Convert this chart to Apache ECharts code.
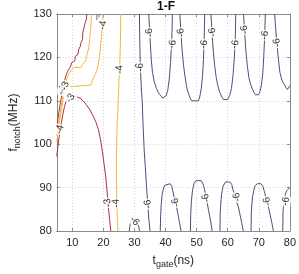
<!DOCTYPE html>
<html><head><meta charset="utf-8">
<script src="https://cdn.jsdelivr.net/npm/echarts@6/dist/echarts.min.js"></script>
<style>html,body{margin:0;padding:0;background:#fff}#c{width:299px;height:274px}</style>
</head><body><div id="c"></div>
<script>
// axis ticks
const xTicks = [10, 20, 30, 40, 50, 60, 70, 80];
const yTicks = [80, 90, 100, 110, 120, 130];

// contour level -3 (t_gate ns, f_notch MHz)
const lvl3Upper = [[5.0,104.0],[5.5,106.5],[6.0,108.8],[6.5,110.8],[7.0,113.0],[7.5,114.6],[8.0,115.9],[8.5,116.8],[9.0,117.4],[9.5,118.0],[9.8,118.8],[10.8,119.2],[11.0,120.3],[11.8,120.7],[12.1,121.9],[12.6,122.6],[12.8,123.4],[13.3,124.1],[13.4,125.7],[14.0,126.0],[14.1,127.9],[14.5,128.7],[14.7,130]];
const lvl3Lower = [[5.0,97.2],[5.5,100.3],[6.0,102.8],[6.5,105.0],[7.0,107.0],[7.5,108.7],[8.0,109.9],[8.6,110.6],[9.5,111.0],[10.5,111.1],[11.3,111.0],[12.5,110.6],[13.5,110.0],[14.5,109.1],[15.5,108.1],[16.5,106.8],[17.5,105.3],[18.4,103.4],[19.1,101.0],[19.7,98.2],[20.3,95.0],[20.8,92.2],[21.2,89.0],[21.6,85.5],[22.0,82.6],[22.4,80]];

// contour level -4
const lvl4A = [[5.0,102.0],[5.5,104.6],[6.0,106.9],[6.5,109.0],[7.0,111.5],[7.5,113.3],[8.0,114.6],[8.5,115.6],[9.0,116.3],[9.6,116.9],[10.3,117.7],[12.8,117.7],[13.3,118.4],[14.3,119.2],[14.6,120.3],[15.2,121.9],[15.6,124.1],[15.9,126.4],[16.1,128.7],[16.2,130]];
const lvl4B = [[5.0,100.5],[5.5,103.3],[6.0,105.6],[6.5,107.8],[7.0,110.2],[7.4,112.0],[7.8,113.2],[8.2,113.6],[15.9,113.6],[16.4,114.6],[16.9,115.0],[17.4,116.1],[17.9,117.0],[18.4,118.6],[18.8,120.3],[19.1,122.6],[19.4,124.9],[19.7,127.2],[19.9,130]];
const lvl4Main = [[25.6,130],[25.5,124],[25.3,119],[25.0,114],[24.7,109],[24.4,104],[24.2,98],[24.2,92],[24.3,87],[24.5,83],[24.7,80]];

// contour level -5 (short pieces at the top)
const lvl5a = [[17.9,130],[17.9,128.6]];
const lvl5b = [[18.6,130],[18.6,129.2]];

// contour level -6
const lvl6Main = [[31.6,130],[31.7,124],[31.9,117.7],[32.2,113],[32.5,109.7],[32.8,104],[33.1,99],[33.5,94.6],[33.9,90],[34.3,86.2],[34.6,83],[35.0,80]];
const lvl6U1 = [[34.6,130],[34.8,127.2],[35.1,123.4],[35.4,119.6],[35.8,116.5],[36.4,114.3],[37.1,112.8],[37.9,111.6],[38.6,111.1],[39.1,110.6],[39.7,110.6],[40.2,111.2],[40.7,112.4],[41.2,115.0],[41.6,118.8],[41.9,122.6],[42.1,126.4],[42.2,130]];
const lvl6U2 = [[44.6,130],[44.9,126.4],[45.3,121.9],[45.8,118.1],[46.3,115.4],[46.8,113.1],[47.4,111.6],[48.0,110.5],[48.4,110.0],[50.6,110.0],[51.0,110.9],[51.5,112.8],[51.9,115.8],[52.2,119.6],[52.4,123.4],[52.6,130]];
const lvl6U3 = [[54.6,130],[54.9,126.4],[55.3,121.9],[55.8,118.1],[56.3,115.4],[56.8,113.5],[57.4,112.0],[58.0,111.1],[58.6,110.3],[60.0,110.3],[60.6,111.2],[61.2,112.8],[61.7,115.8],[62.1,119.6],[62.4,123.4],[62.6,130]];
const lvl6U4 = [[65.1,130],[65.4,126.4],[65.8,121.9],[66.3,118.1],[66.8,115.4],[67.3,113.9],[67.9,112.8],[68.4,112.0],[68.9,111.4],[69.9,111.4],[70.4,112.1],[70.9,113.9],[71.3,116.5],[71.6,120.3],[71.9,125.1],[72.1,130]];
const lvl6U5 = [[75.1,130],[75.4,126.8],[75.8,123.4],[76.3,119.6],[76.8,116.5],[77.4,114.8],[78.1,113.9],[78.7,113.1],[79.2,112.6],[79.7,112.6],[80.0,113.5]];
const lvl6N0 = [[28.3,80],[28.7,81.9],[29.3,82.7],[30.3,82.7],[30.9,81.9],[31.4,81.0],[31.6,80]];
const lvl6N1 = [[38.3,80],[38.4,83.0],[38.6,86.1],[38.9,88.4],[39.3,89.7],[39.7,90.5],[40.3,90.9],[41.5,90.9],[42.0,90.3],[42.3,89.3],[42.7,88.0],[43.3,86.5],[43.9,84.2],[44.5,81.9],[45.0,80]];
const lvl6N2 = [[48.0,80],[48.1,83.8],[48.3,86.8],[48.7,89.5],[49.2,91.0],[49.8,91.6],[51.5,91.6],[52.1,90.8],[52.5,89.7],[53.1,87.6],[53.8,84.9],[54.5,82.3],[55.0,80]];
const lvl6N3 = [[57.5,80],[57.6,84.6],[58.0,88.4],[58.5,90.3],[59.3,91.3],[60.7,91.3],[61.3,90.7],[61.7,89.5],[62.5,87.6],[63.5,85.3],[64.5,81.9],[65.0,80]];
const lvl6N4 = [[67.5,80],[67.6,84.6],[68.0,88.0],[68.7,90.3],[69.5,90.9],[70.7,90.9],[71.3,90.3],[71.8,89.1],[72.3,87.6],[73.3,84.9],[74.2,81.9],[74.7,80]];
const lvl6N5 = [[77.7,80],[77.8,84.6],[78.2,87.2],[78.5,88.4],[79.0,89.3],[79.5,89.7],[80,90.0]];

// contour labels
const labelText = ['-6','-6','-6','-6','-6','-6','-6','-6','-6','-6','-6','-6','-6','-6','-6','-6','-6','-4','-3','-4','-4','-3','-4','-3','-4'];
const labelPos = [[31.9,117.7],[34.9,125.7],[42.2,123.0],[45.0,125.7],[52.4,123.0],[55.1,125.8],[62.4,123.0],[65.4,126.4],[71.9,125.1],[75.9,123.4],[30.0,82.3],[34.3,86.2],[43.3,86.6],[53.0,87.6],[63.0,87.8],[72.7,86.8],[78.7,86.8],[24.3,86.4],[21.4,86.5],[19.9,127.4],[25.2,117.2],[9.4,110.6],[6.7,112.4],[7.7,113.4],[6.0,103.4]];
const labelAngle = [90,100,80,100,80,100,80,100,80,100,-50,95,105,105,105,105,80,90,100,80,95,55,70,70,75];

const C3 = '#a5353e', C4 = '#f4b63f', C5 = '#7d6f8f', C6 = '#574a78';
const FONT = 'Liberation Sans, Arial, Helvetica, sans-serif';

function lineSeries(data, color) {
  return { type: 'line', data: data, showSymbol: false, symbol: 'none', silent: true,
    lineStyle: { color: color, width: 1 }, z: 3, clip: true, animation: false };
}
const series = [
  lineSeries(lvl3Upper, C3), lineSeries(lvl3Lower, C3),
  lineSeries(lvl4A, C4), lineSeries(lvl4B, C4), lineSeries(lvl4Main, C4),
  lineSeries(lvl5a, C5), lineSeries(lvl5b, C5),
  lineSeries(lvl6Main, C6), lineSeries(lvl6U1, C6), lineSeries(lvl6U2, C6), lineSeries(lvl6U3, C6),
  lineSeries(lvl6U4, C6), lineSeries(lvl6U5, C6), lineSeries(lvl6N0, C6), lineSeries(lvl6N1, C6),
  lineSeries(lvl6N2, C6), lineSeries(lvl6N3, C6), lineSeries(lvl6N4, C6), lineSeries(lvl6N5, C6),
  { type: 'scatter', z: 5, silent: true, animation: false, symbolSize: 1,
    itemStyle: { color: 'rgba(0,0,0,0)' },
    label: { show: true, position: 'inside', fontSize: 10, fontFamily: FONT, color: '#000',
      backgroundColor: '#fff', padding: [0, 1], lineHeight: 10 },
    data: labelPos.map((p, i) => ({ value: p, label: { formatter: labelText[i], rotate: labelAngle[i] } })) }
];

const axisGray = '#8a8a8a';
const chart = echarts.init(document.getElementById('c'), null, { renderer: 'canvas' });
chart.setOption({
  animation: false,
  backgroundColor: '#fff',
  title: { text: '1-F', left: 157, top: 1, padding: 0,
    textStyle: { fontSize: 12, fontWeight: 'bold', fontFamily: FONT, color: '#111' } },
  grid: { left: 44, right: 6, top: 14, bottom: 41, containLabel: false },
  xAxis: [
    { type: 'value', min: 5, max: 80, position: 'bottom',
      axisLine: { show: true, lineStyle: { color: axisGray, width: 1 } },
      axisTick: { show: true, inside: true, length: 3, customValues: xTicks, lineStyle: { color: axisGray } },
      axisLabel: { customValues: xTicks, fontSize: 11, fontFamily: FONT, color: '#262626', margin: 6 },
      splitLine: { show: true, lineStyle: { color: '#d6d6d6', type: [1, 2], width: 1 } },
      name: '{a|t}{s|gate}{a|(ns)}', nameLocation: 'middle', nameGap: 21,
      nameTextStyle: { fontFamily: FONT, color: '#262626',
        rich: { a: { fontSize: 12, fontFamily: FONT, color: '#262626' },
                s: { fontSize: 9, fontFamily: FONT, color: '#262626', padding: [8, 0, 0, 0] } } } },
    { type: 'value', min: 5, max: 80, position: 'top',
      axisLine: { show: true, lineStyle: { color: axisGray, width: 1 } },
      axisTick: { show: true, inside: true, length: 3, customValues: xTicks, lineStyle: { color: axisGray } },
      axisLabel: { show: false }, splitLine: { show: false } }
  ],
  yAxis: [
    { type: 'value', min: 80, max: 130, interval: 10, position: 'left',
      axisLine: { show: true, lineStyle: { color: axisGray, width: 1 } },
      axisTick: { show: true, inside: true, length: 3, lineStyle: { color: axisGray } },
      axisLabel: { fontSize: 11, fontFamily: FONT, color: '#262626', margin: 5 },
      splitLine: { show: true, lineStyle: { color: '#d6d6d6', type: [1, 2], width: 1 } },
      name: '{a|f}{s|notch}{a|(MHz)}', nameLocation: 'middle', nameGap: 28, nameRotate: 90,
      nameTextStyle: { fontFamily: FONT, color: '#262626',
        rich: { a: { fontSize: 12, fontFamily: FONT, color: '#262626' },
                s: { fontSize: 9, fontFamily: FONT, color: '#262626', padding: [8, 0, 0, 0] } } } },
    { type: 'value', min: 80, max: 130, interval: 10, position: 'right',
      axisLine: { show: true, lineStyle: { color: axisGray, width: 1 } },
      axisTick: { show: true, inside: true, length: 3, lineStyle: { color: axisGray } },
      axisLabel: { show: false }, splitLine: { show: false } }
  ],
  series: series
});
</script>
</body></html>
